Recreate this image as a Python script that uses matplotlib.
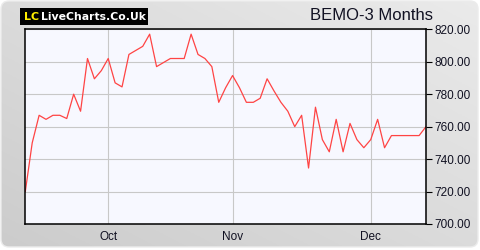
import numpy as np
import matplotlib.pyplot as plt
from matplotlib.patches import FancyBboxPatch, Rectangle

# Date de citire de pe grafic (preturi zilnice)
prices = [720, 750, 767, 764.5, 767, 767, 765, 780, 769.5, 802,
          789.5, 794.5, 802, 787, 784.5, 804.5, 807, 809.5, 817, 797,
          799.5, 802, 802, 802, 817, 804.5, 802, 797, 775, 784,
          791.5, 784, 775, 775, 777.5, 789.5, 782, 775, 769.5, 760,
          767, 734.5, 772, 752, 744.5, 764.5, 744.5, 762, 752, 747,
          752, 764.5, 747, 754.5, 754.5, 754.5, 754.5, 754.5, 760]
month_pos = [12, 30, 50]
month_labels = ['Oct', 'Nov', 'Dec']
y_ticks = [700, 720, 740, 760, 780, 800, 820]
title = 'BEMO-3 Months'

plt.rcParams['font.family'] = ['Liberation Sans', 'DejaVu Sans']

fig = plt.figure(figsize=(4.8, 2.5), dpi=100, facecolor='white')

# Fundal cu gradient si colturi rotunjite
bg = fig.add_axes([0, 0, 1, 1])
bg.set_xlim(0, 480)
bg.set_ylim(250, 0)
bg.axis('off')
gx = np.linspace(0, 1, 200)
gy = np.linspace(0, 1, 100)
grad = 0.5 * gx[None, :] + 0.5 * (1 - gy[:, None])
gray = 0.80 + 0.12 * grad
img = bg.imshow(np.dstack([gray, gray, gray]), extent=[0, 479, 248, 0], aspect='auto')
frame = FancyBboxPatch((1, 1), 477, 246, boxstyle='round,pad=0,rounding_size=8',
                       facecolor='none', edgecolor='#ececec', linewidth=1)
bg.add_patch(frame)
img.set_clip_path(frame)

# Logo
bg.add_patch(Rectangle((20, 7.5), 128, 17.5, facecolor='black', edgecolor='none'))
bg.text(24, 16.5, 'LC', color='#ffee00', fontsize=8, fontweight='bold',
        va='center', ha='left', family='DejaVu Sans')
bg.text(41, 16.5, 'LiveCharts.Co.Uk', color='white', fontsize=7.8,
        fontweight='bold', va='center', ha='left', family='DejaVu Sans')
bg.text(433, 16, title, color='#111122', fontsize=12, va='center', ha='right')

# Graficul principal
ax = fig.add_axes([25.3 / 480, 1 - 224 / 250, (426 - 25.3) / 480, (224 - 29.3) / 250])
ax.set_facecolor('#f7f8ff')
ax.plot(range(len(prices)), prices, color='#ff4444', linewidth=0.9)
ax.set_xlim(0, len(prices) - 1)
ax.set_ylim(700, 820)
ax.set_yticks(y_ticks)
ax.set_yticklabels(['%.2f' % v for v in y_ticks])
ax.set_xticks(month_pos)
ax.set_xticklabels(month_labels)
ax.yaxis.tick_right()
ax.grid(True, color='#c8c8c8', linewidth=0.8)
ax.set_axisbelow(True)
ax.tick_params(axis='y', direction='out', length=4, width=0.8, pad=2,
               labelsize=8.5, colors='black', labelcolor='#111122')
ax.tick_params(axis='x', length=0, pad=5, labelsize=8.5, labelcolor='#111122')
for s in ax.spines.values():
    s.set_color('black')
    s.set_linewidth(1.1)

plt.savefig('out.png', dpi=100, facecolor='white')
